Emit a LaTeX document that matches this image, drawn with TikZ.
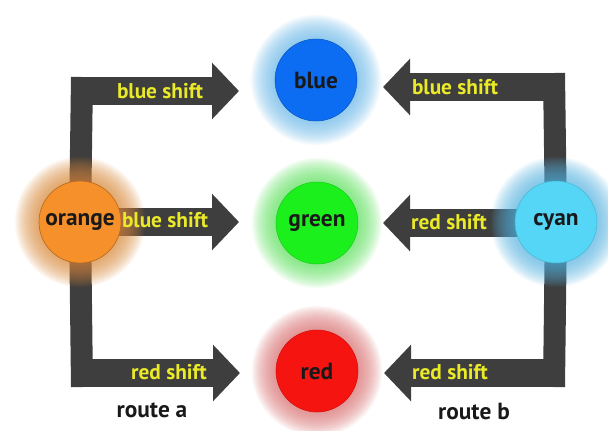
\documentclass[tikz,border=0pt]{standalone}
\usepackage{fontspec}
\setmainfont{PT Sans}
\usetikzlibrary{arrows.meta}
\definecolor{barcol}{HTML}{3E3E3E}
\definecolor{txtyellow}{HTML}{EAEA28}
\definecolor{cblue}{HTML}{0C6CF2}
\definecolor{cgreen}{HTML}{1CF01C}
\definecolor{cred}{HTML}{F51410}
\definecolor{corange}{HTML}{F5902A}
\definecolor{ccyan}{HTML}{55D6F7}
\definecolor{gblue}{HTML}{6CB8E8}
\definecolor{ggreen}{HTML}{60E060}
\definecolor{gred}{HTML}{D87070}
\definecolor{gorange}{HTML}{D88A3C}
\definecolor{gcyan}{HTML}{5AB4E0}
\pgfdeclarelayer{arrowlayer}
\pgfdeclarelayer{glowlayer}
\pgfsetlayers{arrowlayer,glowlayer,main}
\tikzset{
  ball/.style={circle, minimum size=61.5pt, inner sep=0pt, font=\bfseries\fontsize{17.5}{19}\selectfont, text=black!90},
  hbar/.style={draw=barcol, line width=21pt, -{Triangle[length=20.25pt,width=41.25pt]}},
  vbar/.style={draw=barcol, line width=16.5pt},
  shiftlabel/.style={font=\bfseries\fontsize{16}{18}\selectfont, text=txtyellow, inner sep=0pt},
  routelabel/.style={font=\bfseries\fontsize{17.5}{19}\selectfont, text=black!90, inner sep=0pt}
}
\newcommand{\glow}[2]{%
  \foreach \i in {0,...,24}{\fill[#2, opacity=0.055] (#1.center) circle ({(40+\i*1.05)*0.75pt});}}
\begin{document}
\begin{tikzpicture}[x=0.75pt,y=-0.75pt]
\useasboundingbox (0,0) rectangle (608,430);
% circles
\node[ball, fill=cblue, draw=cblue!80!black, line width=0.4pt] (blue) at (316,80) {blue};
\node[ball, fill=cgreen, draw=cgreen!85!black, line width=0.4pt] (green) at (317,223) {green};
\node[ball, fill=cred, draw=cred!85!black, line width=0.4pt] (red) at (317,371) {red};
\node[ball, fill=corange, draw=corange!75!black, line width=0.5pt] (orange) at (80,222) {orange};
\node[ball, fill=ccyan, draw=ccyan!85!black, line width=0.4pt] (cyan) at (556,222) {cyan};
% bend coordinates
\coordinate (lt) at (82,91);
\coordinate (lb) at (82,373);
\coordinate (rt) at (554,87);
\coordinate (rb) at (554,373);
\coordinate (ltip) at (239,91);
\coordinate (lmtip) at (239,222);
\coordinate (lbtip) at (240,373);
\coordinate (rtip) at (383,87);
\coordinate (rmtip) at (383,223);
\coordinate (rbtip) at (384,373);
\begin{pgfonlayer}{arrowlayer}
  % route a
  \draw[vbar] (orange.center) -- ([yshift=10.5pt]lt);
  \draw[hbar] ([xshift=-8.25pt]lt) -- (ltip);
  \draw[hbar] (orange.center |- lmtip) -- (lmtip);
  \draw[vbar] (orange.center) -- ([yshift=-10.5pt]lb);
  \draw[hbar] ([xshift=-8.25pt]lb) -- (lbtip);
  % route b
  \draw[vbar] (cyan.center) -- ([yshift=10.5pt]rt);
  \draw[hbar] ([xshift=8.25pt]rt) -- (rtip);
  \draw[hbar] (cyan.center |- rmtip) -- (rmtip);
  \draw[vbar] (cyan.center) -- ([yshift=-10.5pt]rb);
  \draw[hbar] ([xshift=8.25pt]rb) -- (rbtip);
\end{pgfonlayer}
\begin{pgfonlayer}{glowlayer}
  \glow{blue}{gblue}
  \glow{green}{ggreen}
  \glow{red}{gred}
  \glow{orange}{gorange}
  \glow{cyan}{gcyan}
\end{pgfonlayer}
% labels
\node[shiftlabel] (l1) at (160,91) {blue shift};
\node[shiftlabel] (l2) at (165,220) {blue shift};
\node[shiftlabel] (l3) at (169,372) {red shift};
\node[shiftlabel] (r1) at (455,87) {blue shift};
\node[shiftlabel] (r2) at (449,222) {red shift};
\node[shiftlabel] (r3) at (450,372) {red shift};
\node[routelabel] (ra) at (152,410) {route a};
\node[routelabel] (rb2) at (474,411) {route b};
\end{tikzpicture}
\end{document}
